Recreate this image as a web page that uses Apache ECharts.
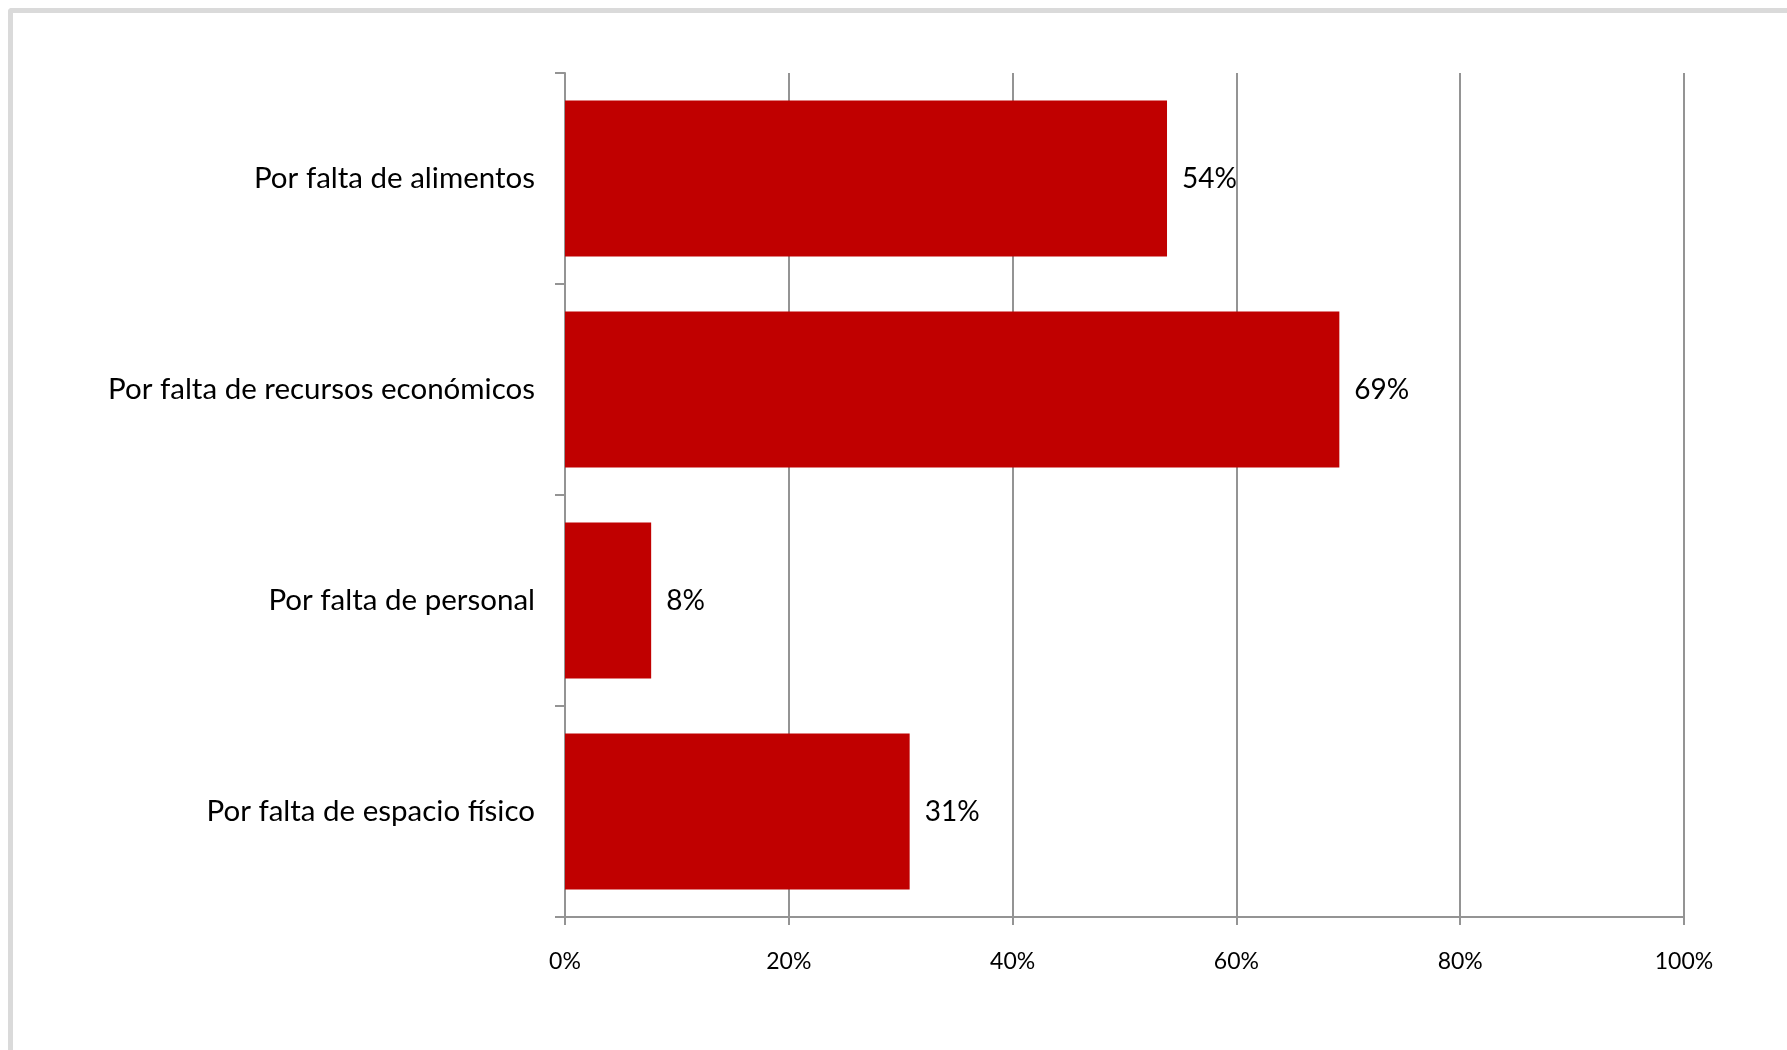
<!DOCTYPE html>
<html>
<head>
<meta charset="utf-8">
<script src="https://cdn.jsdelivr.net/npm/echarts@6/dist/echarts.min.js"></script>
<style>
html,body{margin:0;padding:0;background:#fff;overflow:hidden;}
#frame{position:absolute;left:8px;top:8px;width:1800px;height:1100px;border-left:5px solid #dadada;border-top:5px solid #dadada;border-top-left-radius:4px;box-sizing:border-box;}
#chart{position:absolute;left:0;top:0;width:1787px;height:1050px;}
</style>
</head>
<body>
<div id="frame"></div>
<div id="chart"></div>
<script>
var categories = ["Por falta de alimentos", "Por falta de recursos económicos", "Por falta de personal", "Por falta de espacio físico"];
var values = [0.538, 0.692, 0.077, 0.308];
var tickLabels = ["0%", "20%", "40%", "60%", "80%", "100%"];

var chart = echarts.init(document.getElementById('chart'), null, {renderer: 'canvas'});
var font = 'Lato, "Open Sans", sans-serif';
chart.setOption({
  animation: false,
  backgroundColor: 'transparent',
  grid: {left: 565, right: 103, top: 73, bottom: 133, containLabel: false},
  xAxis: {
    type: 'value', min: 0, max: 1, interval: 0.2,
    axisLine: {show: true, lineStyle: {color: '#949494', width: 2}},
    axisTick: {show: true, length: 8, lineStyle: {color: '#949494', width: 2}},
    splitLine: {show: true, lineStyle: {color: '#949494', width: 2}},
    axisLabel: {
      margin: 33, fontSize: 23, color: '#000', fontFamily: font,
      formatter: function (v) { return tickLabels[Math.round(v / 0.2)]; }
    }
  },
  yAxis: {
    type: 'category', data: categories, inverse: true,
    axisLine: {show: true, lineStyle: {color: '#949494', width: 2}},
    axisTick: {show: true, length: 10, lineStyle: {color: '#949494', width: 2}},
    axisLabel: {margin: 30, fontSize: 29.5, color: '#000', fontFamily: font, padding: [6, 0, 0, 0]},
    splitLine: {show: false}
  },
  series: [{
    type: 'bar',
    data: values,
    barCategoryGap: '26%',
    itemStyle: {color: '#c00000'},
    label: {
      show: true, position: 'right', distance: 15,
      fontSize: 28, color: '#000', fontFamily: font, padding: [9, 0, 0, 0],
      formatter: function (p) { return Math.round(p.value * 100) + '%'; }
    }
  }]
});
</script>
</body>
</html>
